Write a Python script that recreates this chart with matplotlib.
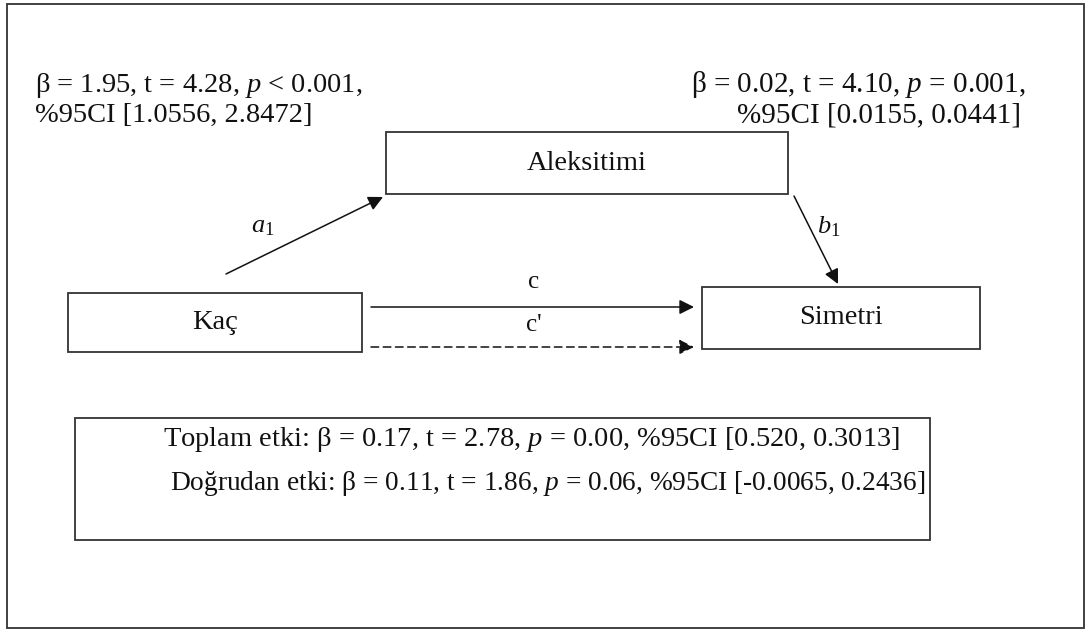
import matplotlib

matplotlib.use("Agg")
import matplotlib.pyplot as plt
from matplotlib.patches import Rectangle

plt.rcParams["font.family"] = ["Liberation Serif", "DejaVu Serif"]
plt.rcParams["mathtext.fontset"] = "custom"
plt.rcParams["mathtext.rm"] = "Liberation Serif"
plt.rcParams["mathtext.it"] = "Liberation Serif:italic"

# değişkenler ve yol etiketleri
nodes = ["Kaç", "Aleksitimi", "Simetri"]
paths = ["$a_1$", "$b_1$", "c", "c'"]
a_stats = ["β = 1.95, t = 4.28, $p$ < 0.001,", "%95CI [1.0556, 2.8472]"]
b_stats = ["β = 0.02, t = 4.10, $p$ = 0.001,", "%95CI [0.0155, 0.0441]"]
effects = [
    "Toplam etki: β = 0.17, t = 2.78, $p$ = 0.00, %95CI [0.520, 0.3013]",
    "Doğrudan etki: β = 0.11, t = 1.86, $p$ = 0.06, %95CI [-0.0065, 0.2436]",
]

W, H = 1086, 633
fig = plt.figure(figsize=(W / 100, H / 100), dpi=100)
ax = fig.add_axes([0, 0, 1, 1])
ax.set_xlim(0, W)
ax.set_ylim(H, 0)
ax.axis("off")

LC = "#333333"
TC = "#111111"
FS = 20.5


def box(x0, y0, x1, y1, label=None):
    ax.add_patch(Rectangle((x0, y0), x1 - x0, y1 - y0, fill=False, ec=LC, lw=1.3))
    if label:
        ax.text((x0 + x1) / 2, (y0 + y1) / 2, label, ha="center", va="center",
                fontsize=20.5, color=TC)


def arrow(p0, p1, ls="-"):
    ax.annotate("", xy=p1, xytext=p0,
                arrowprops=dict(arrowstyle="-|>", color=TC, lw=1.1, ls=ls,
                                mutation_scale=22, shrinkA=0, shrinkB=0))


# dış çerçeve
box(7, 4, 1084, 628)

box(68, 293, 362, 352, nodes[0])
box(386, 132, 788, 194, nodes[1])
box(702, 287, 980, 349, nodes[2])

arrow((226, 274), (383, 197))
arrow((794, 196), (838, 284))
arrow((371, 307), (694, 307))
arrow((371, 347), (694, 347), ls=(0, (5, 3)))

ax.text(263, 227, paths[0], ha="center", va="center", fontsize=19, color=TC)
ax.text(829, 227, paths[1], ha="center", va="center", fontsize=19, color=TC)
ax.text(534, 282, paths[2], ha="center", va="center", fontsize=18, color=TC)
ax.text(534, 325, paths[3], ha="center", va="center", fontsize=18, color=TC)

ax.text(35, 85, a_stats[0], ha="left", va="center", fontsize=FS, color=TC)
ax.text(35, 115, a_stats[1], ha="left", va="center", fontsize=FS, color=TC)
ax.text(858, 85, b_stats[0], ha="center", va="center", fontsize=FS + 0.5, color=TC)
ax.text(879, 115, b_stats[1], ha="center", va="center", fontsize=FS + 0.5, color=TC)

box(75, 418, 930, 540)
ax.text(163, 440, effects[0], ha="left", va="center", fontsize=FS, color=TC)
ax.text(170, 483, effects[1], ha="left", va="center", fontsize=19.7, color=TC)

fig.savefig("out.png", dpi=100, facecolor="white")
